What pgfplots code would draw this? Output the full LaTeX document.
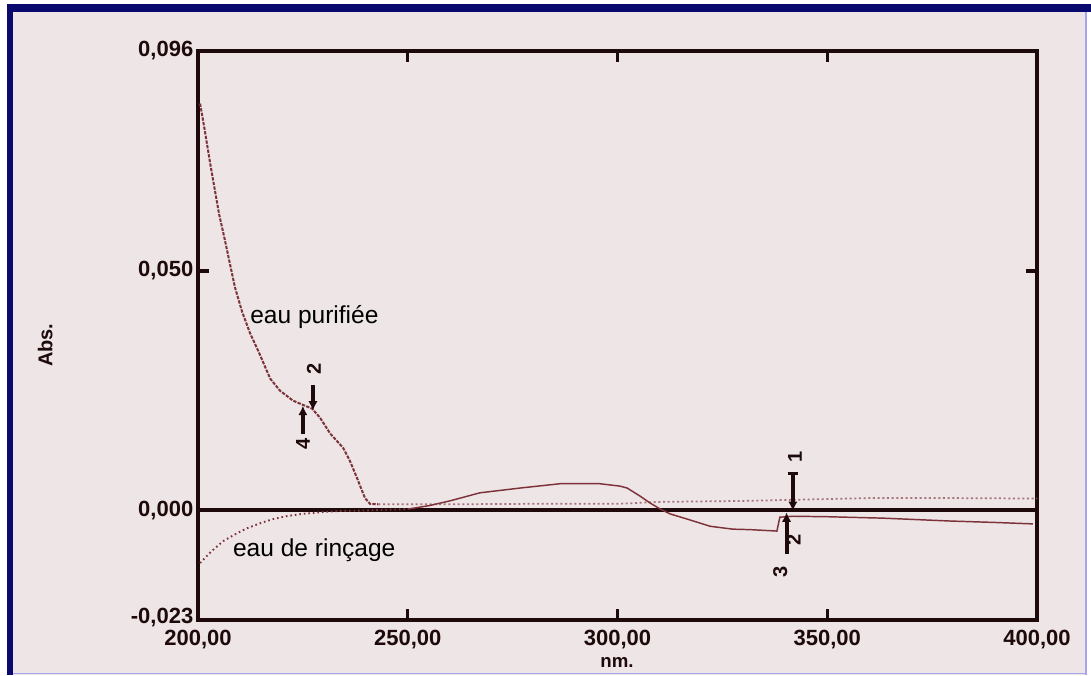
\documentclass[border=0pt]{standalone}
\usepackage{pgfplots}
\pgfplotsset{compat=1.18}
\usepackage{fontspec}
\setmainfont{Liberation Sans}
\usetikzlibrary{arrows.meta}
\definecolor{bgpink}{RGB}{237,229,230}
\definecolor{navy}{RGB}{10,10,110}
\definecolor{lblue}{RGB}{165,165,235}
\definecolor{axcol}{RGB}{30,10,10}
\definecolor{curve}{RGB}{125,50,58}
\definecolor{faint}{RGB}{165,115,120}
\begin{document}
\begin{tikzpicture}
\useasboundingbox (0pt,0pt) rectangle (818.25pt,506.25pt);
\fill[white] (0pt,0pt) rectangle (818.25pt,506.25pt);
\fill[bgpink] (5.25pt,0pt) rectangle (815.25pt,503.25pt);
\draw[lblue, line width=0.8pt] (814.5pt,0pt) -- (814.5pt,503.25pt);
\draw[lblue, line width=0.8pt] (5.25pt,1.2pt) -- (815.25pt,1.2pt);
\draw[navy, line width=4.5pt] (7.5pt,0pt) -- (7.5pt,503.25pt);
\draw[navy, line width=6pt] (5.25pt,500.25pt) -- (818.25pt,500.25pt);
\begin{axis}[
  at={(148.5pt,41.25pt)}, anchor=south west,
  scale only axis, width=629.25pt, height=426.75pt,
  xmin=200, xmax=400, ymin=-0.023, ymax=0.096,
  axis line style={axcol, line width=3pt},
  xtick={200,250,300,350,400},
  xticklabels={{200,00},{250,00},{300,00},{350,00},{400,00}},
  ytick={-0.023,0,0.05,0.096},
  yticklabels={{\raisebox{6pt}{-0,023}},{0,000},{0,050},{0,096}},
  scaled y ticks=false, scaled x ticks=false,
  tick align=inside, major tick length=8pt,
  tick style={axcol, line width=2.4pt},
  ticklabel style={font=\fontsize{16.5}{18}\selectfont\bfseries, text=axcol},
  xticklabel style={yshift=-4pt},
  yticklabel style={xshift=0pt},
  xlabel={nm.}, ylabel={Abs.},
  xlabel style={at={(axis description cs:0.4994,-0.074)}, anchor=center, font=\fontsize{14}{15}\selectfont\bfseries, text=axcol},
  ylabel style={at={(axis description cs:-0.182,0.483)}, anchor=center, font=\fontsize{15}{16}\selectfont\bfseries, text=axcol},
  clip=false,
]
% zero line
\addplot[axcol, line width=3pt] coordinates {(200,0) (400,0)};
% eau purifiee
\addplot[curve, line width=1.5pt, dash pattern=on 2.5pt off 1pt] coordinates {
(200.5,0.0850) (201.5,0.0800) (203,0.0720) (205,0.0620) (206.4,0.0565)
(208.8,0.0466) (210.5,0.0415) (212.4,0.0370) (214.5,0.0330) (217.2,0.0275)
(219.5,0.0250) (222.6,0.0229) (225.0,0.0220) (227.2,0.0212) (229.1,0.0193)
(231.5,0.0160) (234.6,0.0130) (236.2,0.0103) (237.9,0.0067) (239.8,0.0025)
(241.0,0.0013) (243.0,0.0012)};
\addplot[faint, line width=1.3pt, dash pattern=on 1.5pt off 2pt] coordinates {
(243,0.0012) (260,0.0012) (280,0.0013) (300,0.0013) (310,0.0017) (330,0.0019)
(345,0.0022) (360,0.0025) (380,0.0025) (400,0.0024)};
% eau de rincage
\addplot[curve, line width=1.4pt, dash pattern=on 1.2pt off 2.2pt] coordinates {
(200.5,-0.0111) (203,-0.0088) (206,-0.0065) (209,-0.0050) (211.7,-0.0038)
(215,-0.0027) (217.9,-0.0019) (221,-0.0013) (225,-0.0008) (230,-0.0004)
(234,-0.0002) (240,-0.0001) (250,0.0002)};
\addplot[curve, line width=1.1pt] coordinates {
(250,0.0002) (255,0.0009) (260,0.0019) (267.2,0.0036) (276.8,0.0046)
(286.3,0.0055) (295.8,0.0055) (300.6,0.0050) (302.3,0.0046) (305.4,0.0029)
(307.7,0.0015) (310,0.0003) (312.5,-0.0008) (317,-0.0020) (322.1,-0.0034)
(327.5,-0.0040) (331.6,-0.0041) (338.0,-0.0044) (338.7,-0.0015) (341.8,-0.0013)
(350,-0.0014) (363.3,-0.0017) (379.3,-0.0023) (390,-0.0026) (399,-0.0029)};
% annotations
\tikzset{mk/.style={axcol, line width=3pt, -{Latex[length=7pt,width=7pt]}},
         mkl/.style={rotate=90, font=\fontsize{15}{16}\selectfont\bfseries, text=axcol}}
\draw[mk] (axis cs:225,0.0160) -- (axis cs:225,0.0218);
\node[mkl] at (axis cs:225,0.0139) {4};
\draw[mk] (axis cs:227.4,0.0262) -- (axis cs:227.4,0.0208);
\node[mkl] at (axis cs:227.6,0.0295) {2};
\draw[mk] (axis cs:341.8,0.0076) -- (axis cs:341.8,-0.0002);
\draw[axcol, line width=2.5pt] (axis cs:340.6,0.0076) -- (axis cs:343.0,0.0076);
\node[mkl] at (axis cs:342.3,0.0110) {1};
\draw[mk] (axis cs:340.3,-0.0092) -- (axis cs:340.3,-0.0005);
\node[mkl] at (axis cs:342.0,-0.0062) {2};
\node[mkl] at (axis cs:338.8,-0.0130) {3};
% text labels
\node[anchor=west, inner sep=0pt, font=\fontsize{18.4}{20}\selectfont] at (axis cs:212.4,0.0403) {eau purifiée};
\node[anchor=west, inner sep=0pt, font=\fontsize{18.4}{20}\selectfont] at (axis cs:208.3,-0.0084) {eau de rinçage};
\end{axis}
\end{tikzpicture}
\end{document}
